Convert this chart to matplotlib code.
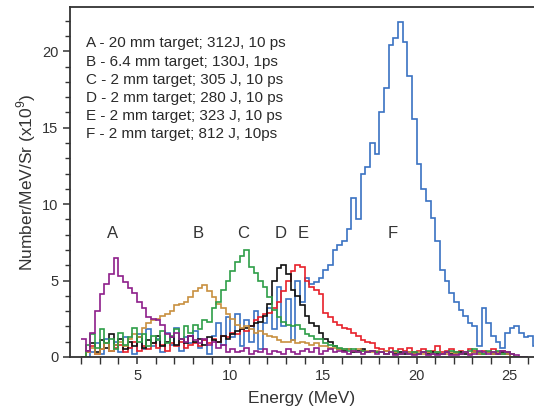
import numpy as np
import matplotlib
matplotlib.use("Agg")
import matplotlib.pyplot as plt
from matplotlib.ticker import MultipleLocator

plt.rcParams['font.family'] = ['Liberation Sans', 'DejaVu Sans']
plt.rcParams['mathtext.fontset'] = 'custom'
plt.rcParams['mathtext.rm'] = 'Liberation Sans'

# --- spectra, 0.25 MeV bins starting at 2 MeV (values in 1e9 / MeV / Sr) ---
bin_start = 2.0
bin_width = 0.25

spec_A = [1.2, 0.4, 1.6, 3.0, 4.1, 4.8, 5.4, 6.5,
          5.3, 4.9, 4.5, 4.2, 3.6, 3.2, 2.6, 2.5,
          2.4, 2.1, 1.5, 1.3, 1.6, 1.2, 1.0, 1.4,
          1.1, 0.9, 1.2, 0.8, 1.0, 0.6, 0.8, 0.3,
          0.5, 0.3, 0.4, 0.6, 0.2, 0.4, 0.3, 0.5,
          0.2, 0.4, 0.3, 0.2, 0.5, 0.3, 0.2, 0.4,
          0.5, 0.3, 0.6, 0.2, 0.4, 0.5, 0.3, 0.4,
          0.3, 0.2, 0.4, 0.3, 0.2, 0.3, 0.4, 0.2,
          0.3, 0.2, 0.3, 0.1, 0.2, 0.3, 0.2, 0.1,
          0.2, 0.3, 0.1, 0.2, 0.1, 0.2, 0.3, 0.1,
          0.1, 0.2, 0.3, 0.1, 0.2, 0.4, 0.3, 0.2,
          0.3, 0.2, 0.4, 0.3, 0.2, 0.1, 0.0, 0.0]

spec_B = [0.0, 0.3, 0.6, 0.2, 0.5, 0.9, 0.4, 0.8,
          1.0, 0.7, 1.2, 1.5, 1.3, 1.9, 2.2, 2.4,
          2.5, 2.7, 2.8, 3.0, 3.4, 3.5, 3.6, 3.9,
          4.3, 4.5, 4.7, 4.3, 3.9, 3.5, 3.2, 2.8,
          2.5, 2.1, 1.9, 2.0, 1.8, 1.6, 1.7, 1.5,
          1.4, 1.3, 1.1, 1.0, 1.0, 1.1, 0.9, 1.0,
          0.9, 0.8, 0.9, 0.7, 0.7, 0.6, 0.6, 0.5,
          0.5, 0.5, 0.4, 0.5, 0.4, 0.4, 0.3, 0.4,
          0.3, 0.4, 0.3, 0.3, 0.2, 0.3, 0.3, 0.2,
          0.3, 0.2, 0.3, 0.2, 0.3, 0.2, 0.2, 0.3,
          0.2, 0.2, 0.3, 0.2, 0.3, 0.2, 0.2, 0.3,
          0.2, 0.3, 0.2, 0.2, 0.0, 0.0, 0.0, 0.0]

spec_C = [0.0, 0.8, 1.5, 0.6, 1.8, 0.9, 1.2, 0.5,
          1.6, 0.8, 1.3, 1.9, 1.0, 1.5, 0.7, 1.4,
          1.1, 1.7, 0.9, 1.4, 1.8, 1.2, 2.0, 1.6,
          2.1, 1.8, 2.4, 2.3, 3.2, 3.6, 4.4, 5.0,
          5.6, 6.2, 6.6, 7.0, 5.9, 5.5, 5.0, 4.6,
          3.9, 3.1, 2.6, 2.3, 2.1, 2.0, 2.1, 1.8,
          1.5, 1.4, 1.2, 1.2, 0.9, 0.8, 0.7, 0.6,
          0.5, 0.4, 0.5, 0.3, 0.4, 0.3, 0.4, 0.3,
          0.3, 0.2, 0.3, 0.4, 0.2, 0.3, 0.2, 0.3,
          0.2, 0.3, 0.4, 0.2, 0.3, 0.2, 0.3, 0.4,
          0.3, 0.2, 0.3, 0.4, 0.5, 0.3, 0.2, 0.4,
          0.3, 0.4, 0.2, 0.3, 0.2, 0.0, 0.0, 0.0]

spec_D = [0.0, 0.4, 0.9, 0.3, 1.1, 0.6, 1.5, 0.8,
          1.2, 0.5, 1.0, 0.7, 1.3, 0.6, 1.1, 0.9,
          1.4, 0.7, 1.0, 1.3, 0.8, 1.2, 0.9, 1.4,
          1.0, 1.2, 0.8, 1.3, 1.1, 1.0, 1.4, 1.2,
          1.5, 1.7, 1.8, 1.9, 2.0, 2.2, 2.3, 2.7,
          3.5, 5.0, 5.8, 6.0, 5.4, 4.4, 4.0, 3.4,
          2.7, 2.2, 2.0, 1.6, 1.2, 1.0, 0.7, 0.5,
          0.4, 0.5, 0.3, 0.4, 0.5, 0.3, 0.4, 0.3,
          0.3, 0.2, 0.3, 0.2, 0.3, 0.2, 0.3, 0.2,
          0.2, 0.3, 0.2, 0.3, 0.2, 0.2, 0.3, 0.2,
          0.2, 0.3, 0.2, 0.2, 0.3, 0.2, 0.2, 0.3,
          0.2, 0.2, 0.3, 0.2, 0.0, 0.0, 0.0, 0.0]

spec_E = [0.0, 0.3, 0.7, 0.2, 0.5, 0.9, 0.4, 0.6,
          0.8, 0.3, 0.6, 1.0, 0.4, 0.7, 0.5, 0.9,
          0.6, 0.8, 0.4, 0.9, 0.7, 1.0, 0.6, 0.8,
          0.9, 0.7, 1.1, 0.9, 1.2, 1.0, 1.4, 1.3,
          1.6, 1.5, 1.8, 1.7, 2.0, 2.4, 2.6, 2.8,
          2.9, 3.2, 3.6, 4.3, 5.0, 5.6, 6.0, 5.9,
          5.0, 4.6, 4.4, 4.1, 2.9, 2.6, 2.3, 2.1,
          1.9, 1.8, 1.6, 1.4, 1.1, 1.0, 0.9, 0.6,
          0.5, 0.4, 0.6, 0.3, 0.5, 0.4, 0.6, 0.3,
          0.4, 0.5, 0.3, 0.4, 0.7, 0.3, 0.4, 0.5,
          0.3, 0.4, 0.3, 0.5, 0.4, 0.3, 0.4, 0.3,
          0.5, 0.3, 0.4, 0.3, 0.2, 0.0, 0.0, 0.0]

spec_F = [0.0, 0.0, 0.3, 0.9, 0.2, 1.2, 0.4, 1.0,
          0.3, 1.3, 0.6, 0.2, 1.5, 0.5, 1.8, 0.7,
          1.2, 0.3, 1.6, 0.8, 1.9, 0.4, 1.3, 0.9,
          1.7, 0.6, 1.1, 0.2, 1.4, 2.2, 0.8, 2.6,
          1.3, 2.8, 0.7, 2.4, 1.0, 3.0, 0.5, 2.2,
          3.2, 1.8, 4.6, 2.0, 3.8, 1.1, 5.0, 3.6,
          5.2, 4.8, 4.9, 5.2, 5.7, 6.0, 7.0, 7.3,
          7.6, 8.4, 10.4, 9.0, 12.0, 12.4, 14.0, 13.3,
          16.0, 17.6, 20.4, 20.9, 21.9, 20.6, 18.4, 15.6,
          12.6, 11.0, 10.2, 9.1, 7.6, 5.7, 5.0, 4.2,
          3.6, 3.1, 2.7, 2.2, 2.0, 0.7, 3.2, 2.2,
          1.4, 1.0, 0.6, 1.6, 1.9, 2.0, 1.6, 1.3,
          1.4, 0.7]

legend_lines = ["A - 20 mm target; 312J, 10 ps",
                "B - 6.4 mm target; 130J, 1ps",
                "C - 2 mm target; 305 J, 10 ps",
                "D - 2 mm target; 280 J, 10 ps",
                "E - 2 mm target; 323 J, 10 ps",
                "F - 2 mm target; 812 J, 10ps"]

peak_letters = ["A", "B", "C", "D", "E", "F"]
peak_x = [3.7, 8.3, 10.7, 12.7, 13.9, 18.7]
peak_y = 8.1

# --- figure ---
fig = plt.figure(figsize=(5.34, 4.12), dpi=100)
ax = fig.add_axes([0.131, 0.1335, 0.869, 0.8495])

series = [(spec_F, '#3a72c2'), (spec_E, '#e8202a'), (spec_D, '#111111'),
          (spec_B, '#c89040'), (spec_C, '#2e9e48'), (spec_A, '#8e1e8a')]
for vals, col in series:
    edges = bin_start + bin_width * np.arange(len(vals) + 1)
    ax.stairs(vals, edges, color=col, linewidth=1.2, baseline=None)

for letter, xp in zip(peak_letters, peak_x):
    ax.text(xp, peak_y, letter, fontsize=12, color='#333333',
            ha='center', va='center')

for i, line in enumerate(legend_lines):
    ax.text(0.035, 0.896 - i * 0.052, line, transform=ax.transAxes,
            fontsize=11, color='#2a2a2a', ha='left', va='center')

ax.set_xlim(1.4, 26.3)
ax.set_ylim(0, 22.9)
ax.xaxis.set_major_locator(MultipleLocator(5))
ax.xaxis.set_minor_locator(MultipleLocator(1))
ax.yaxis.set_major_locator(MultipleLocator(5))
ax.yaxis.set_minor_locator(MultipleLocator(1))
ax.tick_params(which='major', direction='out', length=5, width=1.1,
               color='#333333', labelsize=10.5, labelcolor='#333333')
ax.tick_params(which='minor', direction='out', length=3.5, width=1.0,
               color='#333333')
ax.tick_params(axis='x', which='minor', length=5)

for side in ['left', 'bottom', 'top']:
    ax.spines[side].set_color('#333333')
    ax.spines[side].set_linewidth(1.3)
ax.spines['right'].set_visible(False)

ax.set_xlabel("Energy (MeV)", fontsize=12.5, color='#333333', labelpad=6)
ax.set_ylabel(r"Number/MeV/Sr (x10$^9$)", fontsize=12.5, color='#333333',
              labelpad=3)

fig.savefig("out.png", dpi=100)
